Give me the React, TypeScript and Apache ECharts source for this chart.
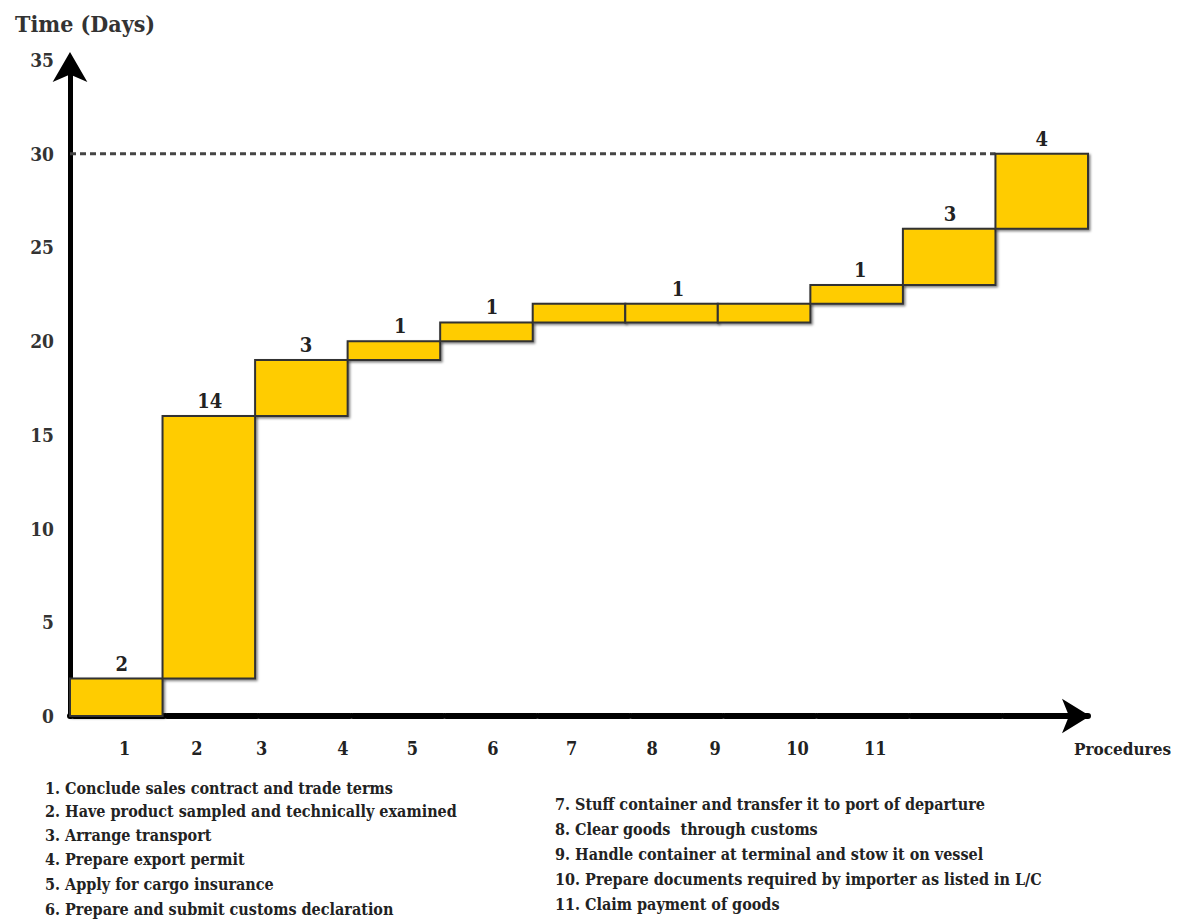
import React, { useEffect, useRef } from "react";
import * as echarts from "echarts";

// Step intervals along the procedure axis and the cumulative day range of each step
const stepStart = [0, 1, 2, 3, 4, 5, 6, 7, 8, 9, 10];
const stepEnd = [1, 2, 3, 4, 5, 6, 7, 8, 9, 10, 11];
const dayLow = [0, 2, 16, 19, 20, 21, 21, 21, 22, 23, 26];
const dayHigh = [2, 16, 19, 20, 21, 22, 22, 22, 23, 26, 30];

// Duration labels placed above the steps
const durationText = ["2", "14", "3", "1", "1", "1", "1", "3", "4"];
const durationX = [0.56, 1.51, 2.55, 3.57, 4.56, 6.57, 8.54, 9.51, 10.5];
const durationY = [2, 16, 19, 20, 21, 22, 23, 26, 30];

// Procedure number labels on the horizontal axis
const procText = ["1", "2", "3", "4", "5", "6", "7", "8", "9", "10", "11"];
const procX = [0.59, 1.37, 2.07, 2.95, 3.7, 4.57, 5.42, 6.29, 6.97, 7.86, 8.7];

// Reference line (total time)
const totalDays = 30;
const totalLineX = [0, 10];

const yTicks = [0, 5, 10, 15, 20, 25, 30, 35];

const legendLeft = [
  "1. Conclude sales contract and trade terms",
  "2. Have product sampled and technically examined",
  "3. Arrange transport",
  "4. Prepare export permit",
  "5. Apply for cargo insurance",
  "6. Prepare and submit customs declaration",
];
const legendRight = [
  "7. Stuff container and transfer it to port of departure",
  "8. Clear goods  through customs",
  "9. Handle container at terminal and stow it on vessel",
  "10. Prepare documents required by importer as listed in L/C",
  "11. Claim payment of goods",
];

const FONT = '"DejaVu Serif Condensed", "DejaVu Serif", serif';

export default function App() {
  const ref = useRef<HTMLDivElement>(null);
  useEffect(() => {
    document.body.style.margin = "0";
    if (!ref.current) return;
    const chart = echarts.init(ref.current, null, { renderer: "svg" });

    const barData = stepStart.map((s, i) => [s, stepEnd[i], dayLow[i], dayHigh[i]]);
    const durData = durationX.map((x, i) => [x, durationY[i]]);
    const procData = procX.map((x) => [x, 0]);

    const legendGraphics: any[] = [];
    const leftY = [790, 813, 837, 861, 886, 911];
    legendLeft.forEach((t, i) =>
      legendGraphics.push({
        type: "text",
        left: 45,
        top: leftY[i] - 10,
        style: { text: t, font: `bold 16px ${FONT}`, fill: "#222" },
      })
    );
    const rightY = [806, 831, 856, 881, 906];
    legendRight.forEach((t, i) =>
      legendGraphics.push({
        type: "text",
        left: 555,
        top: rightY[i] - 10,
        style: { text: t, font: `bold 16px ${FONT}`, fill: "#222" },
      })
    );
    legendGraphics.push({
      type: "text",
      right: 8,
      top: 740,
      style: { text: "Procedures", font: `bold 17px ${FONT}`, fill: "#222" },
    });

    chart.setOption({
      animation: false,
      backgroundColor: "#ffffff",
      title: {
        text: "Time (Days)",
        left: 10,
        top: 7,
        textStyle: { fontFamily: FONT, fontSize: 23, fontWeight: "bold", color: "#333" },
      },
      grid: { left: 70, right: 91, top: 60, bottom: 205 },
      xAxis: {
        type: "value",
        min: 0,
        max: 11,
        axisLine: {
          show: true,
          symbol: ["none", "arrow"],
          symbolSize: [26, 28],
          symbolOffset: [0, 2],
          lineStyle: { color: "#000", width: 6, type: [90, 3], dashOffset: 89 },
        },
        axisTick: { show: false },
        axisLabel: { show: false },
        splitLine: { show: false },
      },
      yAxis: {
        type: "value",
        min: 0,
        max: 35,
        interval: 5,
        axisLine: {
          show: true,
          symbol: ["none", "arrow"],
          symbolSize: [26, 30],
          symbolOffset: [0, 8],
          lineStyle: { color: "#000", width: 5 },
        },
        axisTick: { show: false },
        splitLine: { show: false },
        axisLabel: {
          margin: 16,
          fontFamily: FONT,
          fontSize: 19,
          fontWeight: "bold",
          color: "#333",
          formatter: (v: number) => (yTicks.includes(v) ? String(v) : ""),
        },
      },
      graphic: legendGraphics,
      series: [
        {
          type: "line",
          data: totalLineX.map((x) => [x, totalDays]),
          symbol: "none",
          silent: true,
          z: 1,
          lineStyle: { color: "#444", width: 3, type: [6, 4] },
        },
        {
          type: "custom",
          data: barData,
          encode: { x: [0, 1], y: [2, 3] },
          z: 3,
          renderItem: (params: any, api: any) => {
            const tl = api.coord([api.value(0), api.value(3)]);
            const br = api.coord([api.value(1), api.value(2)]);
            return {
              type: "rect",
              shape: { x: tl[0], y: tl[1], width: br[0] - tl[0], height: br[1] - tl[1] },
              style: {
                fill: "#FFCC00",
                stroke: "#333",
                lineWidth: 2,
                shadowBlur: 2,
                shadowOffsetX: 1.5,
                shadowOffsetY: 1.5,
                shadowColor: "rgba(0,0,0,0.5)",
              },
            };
          },
        },
        {
          type: "custom",
          data: durData,
          encode: { x: 0, y: 1 },
          z: 4,
          renderItem: (params: any, api: any) => {
            const p = api.coord([api.value(0), api.value(1)]);
            return {
              type: "text",
              x: p[0],
              y: p[1] - 5,
              style: {
                text: durationText[params.dataIndex],
                align: "center",
                verticalAlign: "bottom",
                font: `bold 20px ${FONT}`,
                fill: "#222",
              },
            };
          },
        },
        {
          type: "custom",
          data: procData,
          encode: { x: 0, y: 1 },
          z: 4,
          renderItem: (params: any, api: any) => {
            const p = api.coord([api.value(0), api.value(1)]);
            return {
              type: "text",
              x: p[0],
              y: p[1] + 32,
              style: {
                text: procText[params.dataIndex],
                align: "center",
                verticalAlign: "middle",
                font: `bold 18px ${FONT}`,
                fill: "#222",
              },
            };
          },
        },
      ],
    });
    return () => chart.dispose();
  }, []);
  return (
    <div
      ref={ref}
      style={{ position: "absolute", left: 0, top: 0, width: 1179, height: 921 }}
    />
  );
}
